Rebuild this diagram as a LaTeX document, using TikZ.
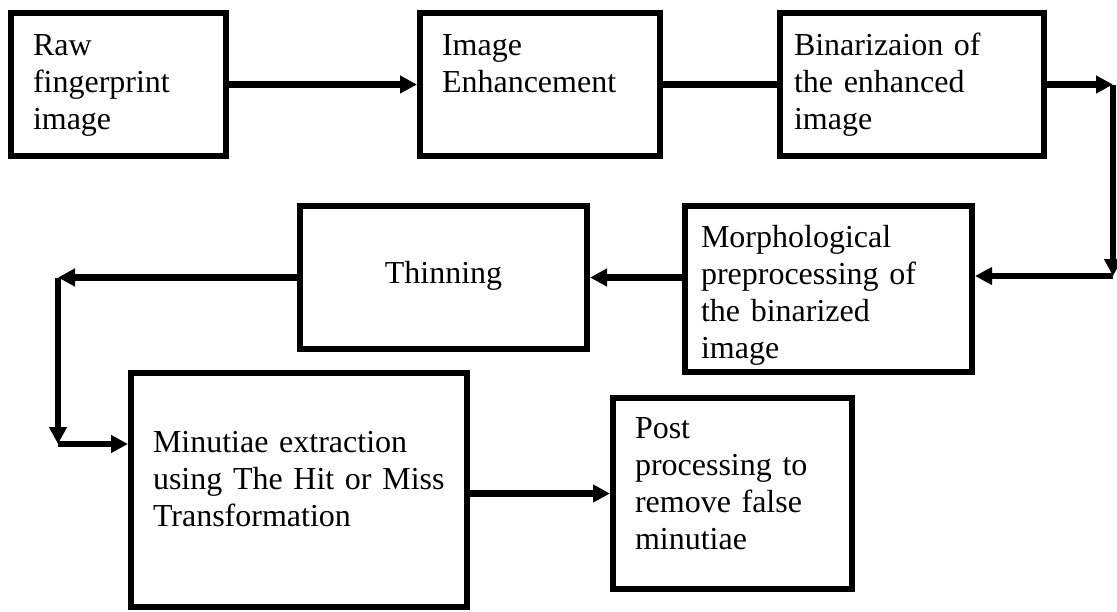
\documentclass[tikz,border=0pt]{standalone}
\usepackage{fontspec}
\setmainfont{Liberation Serif}
\usetikzlibrary{positioning,arrows.meta,calc}

\begin{document}
\begin{tikzpicture}[x=1pt, y=-1pt,
  blk/.style={draw, line width=6pt, align=left, inner ysep=0pt, inner xsep=22pt, text height=42pt, font=\fontsize{32}{37}\selectfont},
  arr/.style={-{Triangle[length=17pt,width=17pt]}, line width=6.5pt},
  lnk/.style={line width=6.5pt}]
  \useasboundingbox (0,0) rectangle (1117,611);
  \node[blk, text width=171pt, text depth=101pt] (raw) at (118.5,84.5) {Raw\\fingerprint\\image};
  \node[blk, text width=196pt, text depth=101pt] (enh) at (540,84.5) {Image\\Enhancement};
  \node[blk, inner xsep=14pt, text width=236pt, text depth=101pt] (bin) at (912,84.5) {Binarizaion of\\the enhanced\\image};
  \node[blk, inner xsep=16pt, text width=255pt, text height=41pt, text depth=125pt] (morph) at (828.5,289) {Morphological\\preprocessing of\\the binarized\\image};
  \node[blk, align=center, inner xsep=0pt, text width=287pt, text height=77pt, text depth=66pt] (thin) at (443.5,277.5) {Thinning};
  \node[blk, text width=292pt, text height=79pt, text depth=155pt] (minu) at (299,490) {Minutiae extraction\\using The Hit or Miss\\Transformation};
  \node[blk, text width=195pt, text height=40pt, text depth=151pt] (post) at (732.5,493.5) {Post\\processing to\\remove false\\minutiae};
  \coordinate (rt) at (1113,84.5);
  \coordinate (rb) at (1113,276);
  \coordinate (lt) at (58,277.5);
  \coordinate (lb) at (58,444);
  \draw[arr] (raw) -- (enh);
  \draw[lnk] (enh) -- (bin);
  \draw[arr] (bin) -- (rt);
  \draw[arr] (rt) -- (rb);
  \draw[arr] (rb) -- (rb -| morph.east);
  \draw[arr] (morph.west |- thin.east) -- (thin.east);
  \draw[arr] (thin) -- (lt);
  \draw[arr] (lt) -- (lb);
  \draw[arr] (lb) -- (lb -| minu.west);
  \draw[arr] (minu.east |- post.west) -- (post.west);
\end{tikzpicture}
\end{document}
